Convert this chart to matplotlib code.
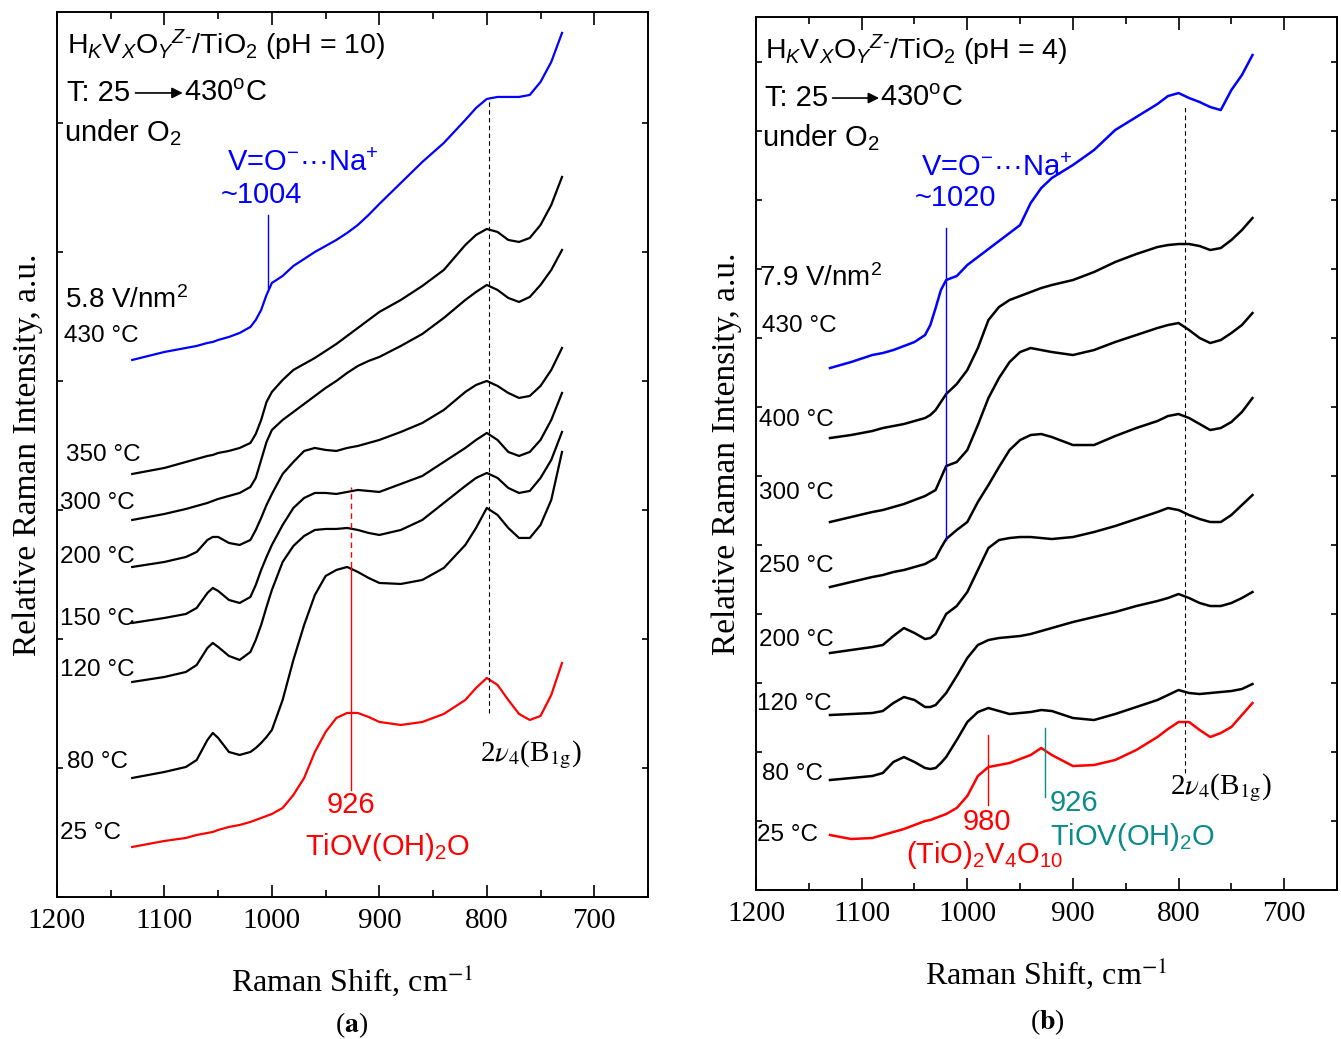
import numpy as np
import matplotlib
matplotlib.use('Agg')
import matplotlib.pyplot as plt
from matplotlib.ticker import MultipleLocator

plt.rcParams['font.family'] = 'Liberation Sans'
plt.rcParams['mathtext.fontset'] = 'custom'
plt.rcParams['mathtext.rm'] = 'Liberation Sans'
plt.rcParams['mathtext.it'] = 'Liberation Sans:italic'
plt.rcParams['mathtext.bf'] = 'Liberation Sans:bold'

# ---------------- panel (a): pH = 10, 5.8 V/nm2 ----------------
wn_a = [1130, 1100, 1080, 1070, 1060, 1055, 1050, 1040, 1030, 1020, 1015, 1010, 1005, 1000,
        990, 980, 970, 960, 950, 940, 930, 920, 910, 900, 880, 860, 840, 820, 810, 800,
        790, 780, 770, 760, 750, 740, 730]
a_430 = [537, 545, 549, 551, 554, 555, 557, 560, 564, 570, 577, 587, 602, 614, 621, 631, 638, 645,
         651, 657, 664, 672, 682, 693, 714, 735, 754, 777, 789, 798, 800, 800, 800, 802, 815, 835, 864]
a_350 = [423, 429, 435, 438, 441, 442, 444, 446, 449, 454, 463, 477, 495, 505, 517, 527, 533, 539,
         546, 553, 561, 569, 577, 585, 597, 611, 627, 652, 662, 668, 665, 657, 655, 659, 672, 692, 720]
a_300 = [377, 383, 388, 391, 394, 396, 398, 401, 404, 410, 419, 437, 455, 467, 477, 485, 493, 501,
         509, 516, 524, 531, 536, 540, 551, 563, 579, 597, 605, 612, 607, 599, 595, 600, 612, 627, 647]
a_200 = [330, 335, 340, 345, 357, 360, 360, 354, 352, 357, 367, 379, 392, 403, 423, 435, 446, 449,
         447, 446, 449, 451, 454, 457, 465, 474, 487, 505, 512, 516, 511, 504, 499, 501, 511, 527, 549]
a_150 = [274, 279, 283, 289, 304, 309, 306, 297, 294, 300, 312, 327, 340, 352, 372, 389, 399, 404,
         404, 403, 405, 407, 406, 405, 413, 421, 435, 449, 457, 464, 457, 445, 441, 445, 457, 477, 504]
a_120 = [215, 220, 225, 232, 249, 254, 250, 241, 237, 245, 257, 272, 290, 307, 335, 351, 361, 367,
         368, 368, 369, 367, 364, 362, 367, 377, 394, 411, 419, 424, 419, 409, 404, 406, 419, 437, 465]
a_80 = [119, 125, 130, 137, 157, 164, 159, 145, 142, 145, 149, 154, 160, 167, 197, 237, 272, 302,
        321, 327, 330, 325, 319, 314, 313, 317, 329, 352, 369, 389, 382, 369, 359, 359, 372, 397, 445]
a_25 = [50, 56, 59, 62, 64, 65, 67, 70, 72, 75, 77, 79, 81, 83, 89, 102, 119, 145,
        165, 179, 184, 184, 180, 175, 172, 175, 183, 197, 209, 219, 212, 197, 183, 177, 181, 202, 234]

# ---------------- panel (b): pH = 4, 7.9 V/nm2 ----------------
wn_b = [1130, 1110, 1090, 1080, 1070, 1060, 1050, 1040, 1035, 1030, 1025, 1020, 1010, 1000,
        990, 980, 970, 960, 950, 940, 930, 920, 900, 880, 860, 840, 820, 810, 800,
        790, 780, 770, 760, 750, 740, 730]
b_430 = [522, 528, 535, 537, 540, 544, 548, 555, 565, 582, 600, 610, 614, 625, 633, 641, 649, 657,
         665, 687, 702, 712, 725, 740, 760, 773, 786, 794, 797, 792, 788, 783, 780, 800, 815, 835]
b_400 = [452, 455, 459, 462, 464, 466, 469, 472, 475, 480, 488, 496, 506, 520, 542, 570, 583, 590,
         594, 598, 602, 605, 610, 618, 628, 636, 643, 645, 646, 646, 644, 640, 642, 650, 660, 672]
b_300 = [368, 373, 378, 380, 383, 386, 390, 394, 397, 400, 412, 424, 428, 440, 465, 492, 512, 528,
         538, 542, 540, 538, 535, 540, 548, 555, 562, 565, 567, 560, 552, 547, 550, 557, 565, 577]
b_250 = [303, 308, 313, 315, 318, 320, 323, 326, 329, 332, 342, 351, 360, 368, 388, 405, 423, 440,
         450, 455, 456, 453, 445, 445, 454, 462, 469, 474, 476, 472, 466, 460, 462, 468, 478, 492]
b_200 = [237, 240, 243, 245, 254, 262, 257, 251, 252, 256, 266, 276, 284, 298, 320, 342, 350, 352,
         353, 353, 352, 351, 353, 358, 364, 371, 378, 382, 380, 375, 371, 368, 368, 375, 385, 395]
b_120 = [175, 176, 177, 179, 187, 193, 190, 183, 183, 185, 191, 197, 214, 232, 245, 250, 252, 253,
         254, 256, 259, 262, 268, 273, 278, 284, 289, 292, 296, 292, 287, 284, 284, 287, 292, 298]
b_80 = [110, 112, 114, 117, 128, 133, 128, 122, 121, 122, 127, 133, 150, 168, 178, 182, 179, 176,
        177, 178, 180, 179, 172, 170, 176, 183, 190, 195, 200, 197, 196, 197, 198, 199, 201, 206]
b_25 = [55, 51, 52, 55, 58, 61, 65, 69, 70, 72, 74, 76, 82, 94, 114, 123, 125, 127,
        131, 135, 142, 135, 124, 125, 130, 140, 153, 161, 168, 168, 160, 153, 157, 163, 175, 187]

xticks = [1200, 1100, 1000, 900, 800, 700]
xtick_labels = ['1200', '1100', '1000', '900', '800', '700']

SERIF = 'Liberation Serif'
TEAL = '#0b8b8b'


def setup_axes(ax, ytop, ystep):
    ax.set_xlim(1200, 650)
    ax.set_ylim(0, ytop)
    ax.set_xticks(xticks)
    ax.set_xticklabels(xtick_labels, fontfamily=SERIF, fontsize=21)
    ax.xaxis.set_minor_locator(MultipleLocator(50))
    ax.yaxis.set_major_locator(MultipleLocator(ystep))
    ax.tick_params(which='both', direction='in', top=True, right=True, labelleft=False, width=1.2)
    ax.tick_params(axis='x', which='major', length=9, pad=8)
    ax.tick_params(axis='x', which='minor', length=5)
    ax.tick_params(axis='y', which='major', length=4)
    for s in ax.spines.values():
        s.set_linewidth(1.4)
    ax.set_xlabel('Raman Shift, cm$^{-1}$', fontfamily=SERIF, fontsize=23,
                  labelpad=20, math_fontfamily='stix')
    ax.set_ylabel('Relative Raman Intensity, a.u.', fontfamily=SERIF, fontsize=24, labelpad=10)


def header(ax, x, y, ph):
    ax.text(x, y, r'H$_K$V$_X$O$_Y$$^{Z‐}$/TiO$_2$ (pH = %s)' % ph, fontsize=20.5, va='center')
    ax.text(x, y - 48, 'T: 25', fontsize=21, va='center')
    ax.annotate('', xy=(x - 108, y - 48), xytext=(x - 64, y - 48),
                arrowprops=dict(arrowstyle='-|>', color='k', lw=1.2, mutation_scale=16,
                                shrinkA=0, shrinkB=0))
    ax.text(x - 109, y - 48, r'430$^{\mathrm{o}}$C', fontsize=21, va='center')
    ax.text(x + 2.5, y - 88, 'under O$_2$', fontsize=21, va='center')


fig = plt.figure(figsize=(13.41, 10.39), dpi=100)

# ---------------- (a) ----------------
ax = fig.add_axes([0.0425, 0.1367, 0.4407, 0.8518])
setup_axes(ax, 885, 129)
for yv, c in [(a_430, 'blue'), (a_350, 'k'), (a_300, 'k'), (a_200, 'k'), (a_150, 'k'),
              (a_120, 'k'), (a_80, 'k'), (a_25, 'red')]:
    ax.plot(wn_a, yv, color=c, lw=1.6)
header(ax, 1191, 852, '10')
ax.text(1042, 734, 'V=O$^{-}$···Na$^{+}$', color='blue', fontsize=21, va='center')
ax.text(1048, 702, '~1004', color='blue', fontsize=21, va='center')
ax.plot([1004, 1004], [609, 682], color='blue', lw=1)
ax.text(1193, 597, '5.8 V/nm$^2$', fontsize=20, va='center')
for lab, x, y in [('430 °C', 1193.5, 561), ('350 °C', 1191.5, 442), ('300 °C', 1197, 394),
                  ('200 °C', 1197, 340), ('150 °C', 1197, 278), ('120 °C', 1197, 227),
                  ('80 °C', 1190.5, 135), ('25 °C', 1197, 64)]:
    ax.text(x, y, lab, fontsize=17.5, va='center')
ax.plot([798, 798], [184, 797], color='k', lw=0.8, ls=(0, (4, 3)))
ax.text(806, 142, r'2$\nu_4$(B$_{\mathrm{1g}}$)', fontfamily=SERIF, math_fontfamily='stix',
        fontsize=21, va='center')
ax.plot([926, 926], [330, 410], color='red', lw=1, ls=(0, (4, 3)))
ax.plot([926, 926], [107, 330], color='red', lw=1)
ax.text(926, 92, '926', color='red', fontsize=21, ha='center', va='center')
ax.text(892, 50, 'TiOV(OH)$_2$O', color='red', fontsize=21, ha='center', va='center')

# ---------------- (b) ----------------
ax = fig.add_axes([0.5638, 0.1434, 0.4332, 0.8402])
setup_axes(ax, 873, 69)
for yv, c in [(b_430, 'blue'), (b_400, 'k'), (b_300, 'k'), (b_250, 'k'), (b_200, 'k'),
              (b_120, 'k'), (b_80, 'k'), (b_25, 'red')]:
    ax.plot(wn_b, yv, color=c, lw=1.8)
header(ax, 1191.5, 840, '4')
ax.text(1043.5, 722, 'V=O$^{-}$···Na$^{+}$', color='blue', fontsize=21, va='center')
ax.text(1050, 692, '~1020', color='blue', fontsize=21, va='center')
ax.plot([1020, 1020], [350, 662], color='blue', lw=1)
ax.text(1197, 612, '7.9 V/nm$^2$', fontsize=20, va='center')
for lab, x, y in [('430 °C', 1194, 564), ('400 °C', 1197, 470), ('300 °C', 1197, 397),
                  ('250 °C', 1197, 324), ('200 °C', 1197, 250), ('120 °C', 1199, 186),
                  ('80 °C', 1194, 116), ('25 °C', 1199, 55)]:
    ax.text(x, y, lab, fontsize=17.5, va='center')
ax.plot([794, 794], [117, 783], color='k', lw=0.8, ls=(0, (4, 3)))
ax.text(808.5, 102, r'2$\nu_4$(B$_{\mathrm{1g}}$)', fontfamily=SERIF, math_fontfamily='stix',
        fontsize=21, va='center')
ax.plot([980, 980], [85, 155], color='red', lw=1)
ax.plot([926, 926], [93, 162], color=TEAL, lw=1)
ax.text(981, 68, '980', color='red', fontsize=21, ha='center', va='center')
ax.text(984, 35, '(TiO)$_2$V$_4$O$_{10}$', color='red', fontsize=21, ha='center', va='center')
ax.text(922, 87, '926', color=TEAL, fontsize=21, va='center')
ax.text(843.5, 53, 'TiOV(OH)$_2$O', color=TEAL, fontsize=21, ha='center', va='center')

fig.text(352 / 1341, 1 - 1025 / 1039, r'($\mathbf{a}$)', fontfamily=SERIF, math_fontfamily='stix',
         fontsize=20, ha='center', va='center')
fig.text(1047 / 1341, 1 - 1022 / 1039, r'($\mathbf{b}$)', fontfamily=SERIF, math_fontfamily='stix',
         fontsize=20, ha='center', va='center')

fig.savefig('out.png', dpi=100)
